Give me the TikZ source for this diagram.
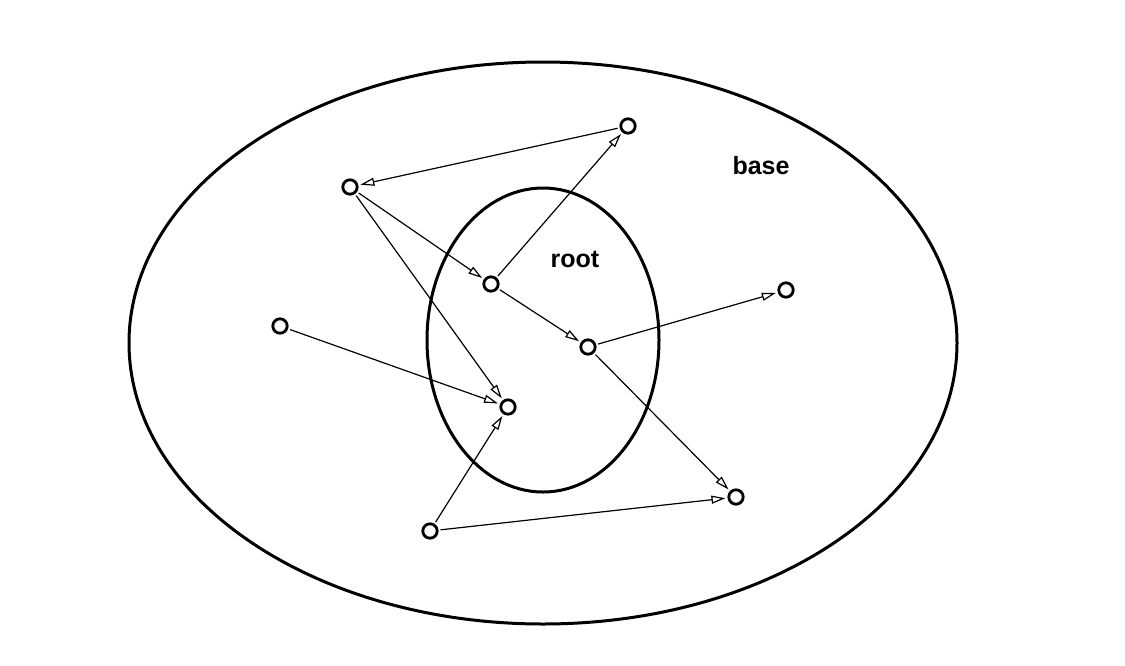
\documentclass[tikz,border=0pt]{standalone}
\usepackage{fontspec}
\setsansfont{Liberation Sans}
\usetikzlibrary{arrows.meta}

\begin{document}
\begin{tikzpicture}[
		x=0.5pt,y=-0.5pt,
		>={Triangle[open,length=7pt,width=4pt]},
		vertex/.style={
			circle,
			draw,
			line width=1.4pt,
			minimum size=7.2pt,
			inner sep=0pt
		},
		setlabel/.style={
			font=\sffamily\bfseries\fontsize{12.5}{15}\selectfont
		}
		]
		
		\useasboundingbox (0,0) rectangle (1125,665);
		
		%--------------------------------------------------
		% Sets
		%--------------------------------------------------
		
		\draw[line width=1.5pt] (543,343) ellipse [x radius=207pt, y radius=140.5pt];
		\draw[line width=1.5pt] (543,340) ellipse [x radius=58pt, y radius=76pt];
		
		\node[setlabel] (base) at (761,166) {base};
		\node[setlabel] (root) at (575,259) {root};
		
		%--------------------------------------------------
		% Objects
		%--------------------------------------------------
		
		\node[vertex] (a) at (628,126) {};
		\node[vertex] (b) at (350,187) {};
		\node[vertex] (c) at (491,284) {};
		\node[vertex] (d) at (588,347) {};
		\node[vertex] (e) at (786,290) {};
		\node[vertex] (f) at (280,326) {};
		\node[vertex] (g) at (508,407) {};
		\node[vertex] (h) at (430,531) {};
		\node[vertex] (i) at (736,497) {};
		
		%--------------------------------------------------
		% References
		%--------------------------------------------------
		
		\foreach \s/\t in {a/b,c/a,b/c,b/g,c/d,d/e,d/i,f/g,h/g,h/i}
		{
			\draw[->,line width=0.6pt,shorten >=1pt,shorten <=1pt] (\s) -- (\t);
		}
		
	\end{tikzpicture}
\end{document}
